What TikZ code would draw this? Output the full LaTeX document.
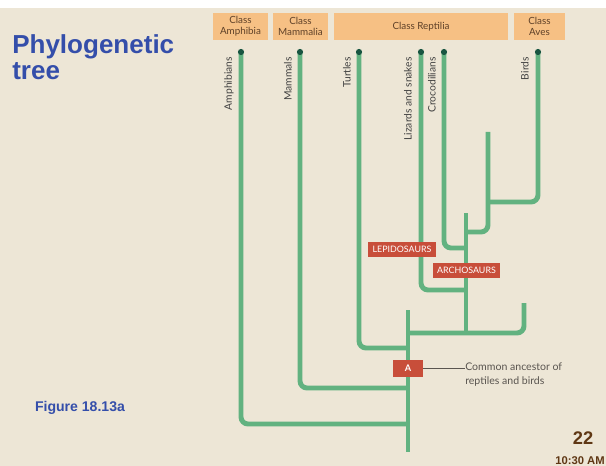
\documentclass[tikz,border=0pt]{standalone}
\usepackage{fontspec}
\setmainfont{Liberation Sans}
\newfontfamily\figfont{Lato}
\usepackage{tikz}
\usetikzlibrary{calc}

\definecolor{slidebg}{RGB}{237,230,214}
\definecolor{branchgreen}{RGB}{98,178,128}
\definecolor{tipdot}{RGB}{25,85,65}
\definecolor{classorange}{RGB}{246,192,132}
\definecolor{classtext}{RGB}{95,65,40}
\definecolor{cladered}{RGB}{200,78,58}
\definecolor{titleblue}{RGB}{52,78,170}
\definecolor{pagebrown}{RGB}{95,55,20}
\definecolor{notegray}{RGB}{90,85,80}

\tikzset{
	branch/.style={branchgreen, line width=3.5pt, rounded corners=5pt},
	classbox/.style={fill=classorange, text=classtext, align=center, inner sep=0pt,
		minimum height=0.675cm, font=\figfont\fontsize{7}{7.8}\selectfont},
	taxon/.style={rotate=90, anchor=east, inner sep=0pt, text=black!75,
		font=\figfont\fontsize{7.3}{8}\selectfont},
	cladebox/.style={fill=cladered, text=white, inner sep=0pt, minimum height=0.375cm,
		font=\figfont\fontsize{6.3}{7}\selectfont},
}

\begin{document}
\begin{tikzpicture}[x=0.025cm, y=-0.025cm]
		\useasboundingbox (0,0) rectangle (606,466);
		\fill[slidebg] (0,0) rectangle (606,466);
		\fill[white] (0,0) rectangle (606,8);

		\node[anchor=north west, align=left, inner sep=0pt, text=titleblue,
			font=\bfseries\fontsize{18.5}{19}\selectfont] (title) at (12,34) {Phylogenetic\\tree};
		\node[text=titleblue, font=\bfseries\fontsize{10}{12}\selectfont] (figlabel) at (80,408) {Figure 18.13a};
		\node[text=pagebrown, font=\bfseries\fontsize{13}{15}\selectfont] (pagenum) at (583,438) {22};
		\node[anchor=west, inner sep=0pt, text=pagebrown, font=\bfseries\fontsize{8}{9}\selectfont] (clock) at (555,461) {10:30 AM};

		\node[classbox, minimum width=1.375cm] (amphibia) at (240.5,26.5) {Class\\Amphibia};
		\node[classbox, minimum width=1.375cm] (mammalia) at (300.5,26.5) {Class\\Mammalia};
		\node[classbox, minimum width=4.35cm] (reptilia) at (421,26.5) {Class Reptilia};
		\node[classbox, minimum width=1.275cm] (aves) at (539.5,26.5) {Class\\Aves};

		\coordinate (amph) at (241,52);
		\coordinate (mamm) at (300,52);
		\coordinate (turt) at (359,52);
		\coordinate (liz) at (421,52);
		\coordinate (croc) at (444,52);
		\coordinate (bird) at (538,52);

		\coordinate (stemtop) at (408,310);
		\coordinate (root) at (408,452);
		\coordinate (j1) at (408,424);
		\coordinate (j2) at (408,388);
		\coordinate (j3) at (408,348);
		\coordinate (j4) at (408,333);
		\coordinate (rep) at (524,303);
		\coordinate (archtop) at (466,213);
		\coordinate (j5) at (466,333);
		\coordinate (j6) at (466,290);
		\coordinate (j7) at (466,248);
		\coordinate (j8) at (466,232);
		\coordinate (ext) at (488,132);
		\coordinate (j9) at (488,202);

		\draw[branch] (stemtop) -- (root);
		\draw[branch] (amph) |- (j1);
		\draw[branch] (mamm) |- (j2);
		\draw[branch] (turt) |- (j3);
		\draw[branch] (j4) -| (rep);
		\draw[branch] (archtop) -- (j5);
		\draw[branch] (liz) |- (j6);
		\draw[branch] (croc) |- (j7);
		\draw[branch] (j8) -| (ext);
		\draw[branch] (bird) |- (j9);
		\foreach \t in {amph,mamm,turt,liz,croc,bird}
			\fill[tipdot] (\t) circle (2.2pt);

		\node[taxon] (amphlabel) at (229,57) {Amphibians};
		\node[taxon] (mammlabel) at (288,57) {Mammals};
		\node[taxon] (turtlabel) at (347,57) {Turtles};
		\node[taxon] (lizlabel) at (408,57) {Lizards and snakes};
		\node[taxon] (croclabel) at (432,57) {Crocodilians};
		\node[taxon] (birdlabel) at (525,57) {Birds};

		\node[cladebox, minimum width=1.7cm] (lepido) at (402,249.5) {LEPIDOSAURS};
		\node[cladebox, minimum width=1.675cm] (archo) at (466.5,270.5) {ARCHOSAURS};
		\node[cladebox, minimum width=0.75cm, minimum height=0.425cm,
			font=\figfont\bfseries\fontsize{6.5}{7}\selectfont] (ancestor) at (408,368.5) {A};

		\node[anchor=north west, align=left, inner sep=0pt, text=notegray,
			font=\figfont\fontsize{7.5}{9.4}\selectfont] (note) at (465,363) {Common ancestor of\\reptiles and birds};
		\draw[notegray, line width=0.6pt] (ancestor.east) -- (ancestor.east -| note.west);
	\end{tikzpicture}
\end{document}
